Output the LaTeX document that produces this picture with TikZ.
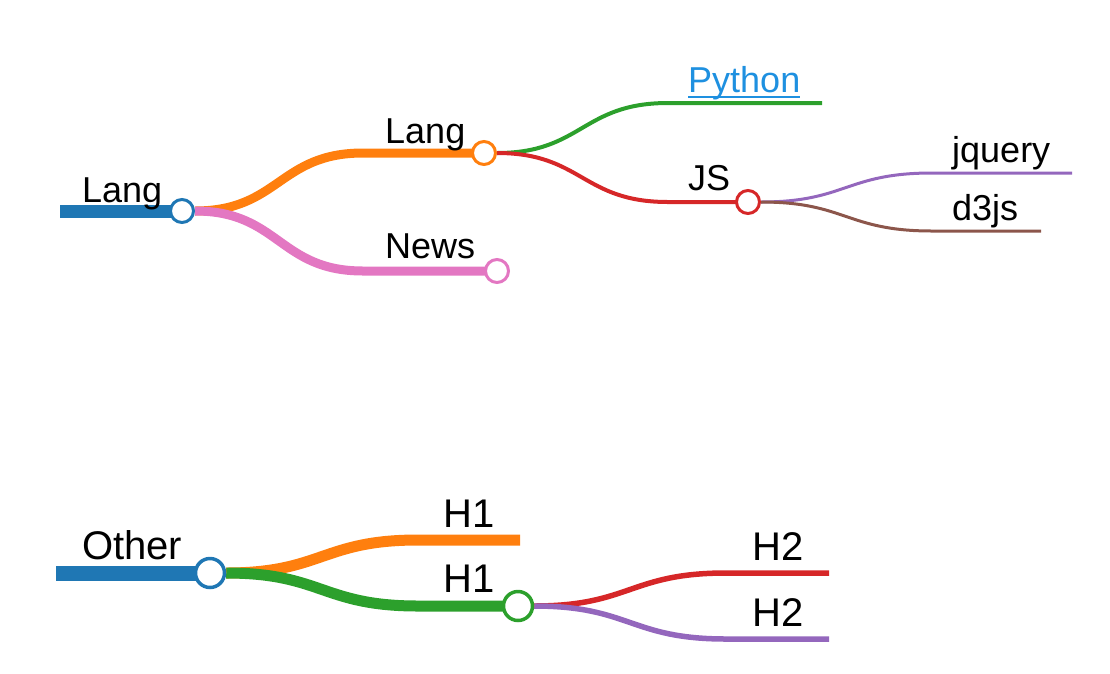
\documentclass[tikz,border=0pt]{standalone}
\usepackage{fontspec}
\setmainfont{Liberation Sans}
\usetikzlibrary{backgrounds}

\definecolor{mmblue}{HTML}{1F77B4}
\definecolor{mmorange}{HTML}{FF7F0E}
\definecolor{mmgreen}{HTML}{2CA02C}
\definecolor{mmred}{HTML}{D62728}
\definecolor{mmpurple}{HTML}{9467BD}
\definecolor{mmbrown}{HTML}{8C564B}
\definecolor{mmpink}{HTML}{E377C2}
\definecolor{linkblue}{HTML}{1E90E0}

\begin{document}
\begin{tikzpicture}[x=1pt, y=-1pt,
    fork/.style={circle, draw, fill=white, inner sep=0pt, line width=3pt, minimum size=23pt},
    bigfork/.style={fork, line width=3.5pt, minimum size=29pt},
    lbl/.style={anchor=base west, inner sep=0pt, font=\fontsize{36}{40}\selectfont},
    biglbl/.style={lbl, font=\fontsize{40}{45}\selectfont},
  ]
  \useasboundingbox (0,0) rectangle (1110,673);

  % first map
  \node[fork, draw=mmblue] (lang) at (182,211) {};
  \node[fork, draw=mmorange] (langsub) at (484,153) {};
  \node[fork, draw=mmpink] (news) at (497,271) {};
  \node[fork, draw=mmred] (js) at (748,202) {};
  \coordinate (langstart) at (60,211);
  \coordinate (langbend) at (363,153);
  \coordinate (newsbend) at (363,271);
  \coordinate (pybend) at (668,103);
  \coordinate (pyend) at (822,103);
  \coordinate (jsbend) at (668,202);
  \coordinate (jqbend) at (932,173);
  \coordinate (jqend) at (1072,173);
  \coordinate (dthreebend) at (932,231);
  \coordinate (dthreeend) at (1041,231);

  \node[lbl] (langlbl) at (82,202) {Lang};
  \node[lbl] (langsublbl) at (385,143) {Lang};
  \node[lbl] (newslbl) at (385,258) {News};
  \node[lbl, text=linkblue] (pylbl) at (688,92) {Python};
  \node[lbl] (jslbl) at (688,190) {JS};
  \node[lbl] (jqlbl) at (952,162) {jquery};
  \node[lbl] (dthreelbl) at (952,220) {d3js};
  \draw[linkblue, line width=2pt] ([yshift=-5pt]pylbl.base west) -- ([yshift=-5pt]pylbl.base east);

  % second map
  \node[bigfork, draw=mmblue] (other) at (210,573) {};
  \node[bigfork, draw=mmgreen] (hone) at (518,606) {};
  \coordinate (otherstart) at (56,573);
  \coordinate (honebend) at (418,540);
  \coordinate (honeend) at (520,540);
  \coordinate (honebendb) at (418,606);
  \coordinate (htwobend) at (726,573);
  \coordinate (htwoend) at (829,573);
  \coordinate (htwobendb) at (726,639);
  \coordinate (htwoendb) at (829,639);

  \node[biglbl] (otherlbl) at (82,559) {Other};
  \node[biglbl] (honelbl) at (443,527) {H1};
  \node[biglbl] (honelblb) at (443,592) {H1};
  \node[biglbl] (htwolbl) at (752,560) {H2};
  \node[biglbl] (htwolblb) at (752,626) {H2};

  \begin{scope}[on background layer]
    \draw[mmblue, line width=13pt] (langstart) -- (lang.center);
    \draw[mmorange, line width=9pt] (lang.east) .. controls (279,211) and (279,153) .. (langbend) -- (langsub.center);
    \draw[mmpink, line width=9pt] (lang.east) .. controls (279,211) and (279,271) .. (newsbend) -- (news.center);
    \draw[mmgreen, line width=4pt] (langsub.east) .. controls (582,153) and (582,103) .. (pybend) -- (pyend);
    \draw[mmred, line width=4pt] (langsub.east) .. controls (582,153) and (582,202) .. (jsbend) -- (js.center);
    \draw[mmpurple, line width=3pt] (js.east) .. controls (846,202) and (846,173) .. (jqbend) -- (jqend);
    \draw[mmbrown, line width=3pt] (js.east) .. controls (846,202) and (846,231) .. (dthreebend) -- (dthreeend);

    \draw[mmblue, line width=15pt] (otherstart) -- (other.center);
    \draw[mmorange, line width=11pt] (other.east) .. controls (322,573) and (322,540) .. (honebend) -- (honeend);
    \draw[mmgreen, line width=11pt] (other.east) .. controls (322,573) and (322,606) .. (honebendb) -- (hone.center);
    \draw[mmred, line width=5.5pt] (hone.east) .. controls (630,606) and (630,573) .. (htwobend) -- (htwoend);
    \draw[mmpurple, line width=5.5pt] (hone.east) .. controls (630,606) and (630,639) .. (htwobendb) -- (htwoendb);
  \end{scope}
\end{tikzpicture}
\end{document}
